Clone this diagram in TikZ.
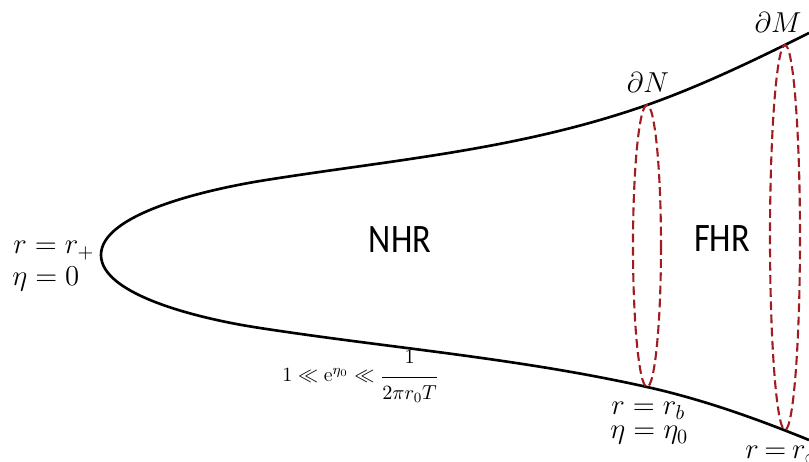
\RequirePackage{fix-cm}
\documentclass[tikz,border=0pt]{standalone}
\usepackage{amsmath,amssymb}
\usepackage{fontspec}
\newfontfamily\regionfont{Carlito}
\usepackage{tikz}
\definecolor{ringred}{RGB}{160,28,32}
\newcommand{\labelsize}{\fontsize{16.4}{19}\selectfont}
\newcommand{\regionname}[1]{\scalebox{0.85}[1]{#1}}
\tikzset{
  wall/.style={line width=1.5pt},
  ring/.style={ringred,line width=1.2pt,dash pattern=on 5pt off 2.5pt},
  lbl/.style={inner sep=0pt,font=\labelsize},
  region/.style={inner sep=0pt,font=\regionfont\fontsize{23}{27}\selectfont}
}

\begin{document}
\begin{tikzpicture}[x=0.02cm,y=-0.02cm]
    \useasboundingbox (0,0) rectangle (809,462);
    \clip (0,0) rectangle (809,462);
    % horn
    \draw[wall] (809,33) .. controls (755,60) and (701,86) .. (647,105)
      .. controls (517,150.5) and (390,160) .. (260,181)
      .. controls (200,191) and (101,215) .. (101,255)
      .. controls (101,295) and (200,319) .. (260,328)
      .. controls (390,348) and (517,358) .. (647,387)
      .. controls (701,399) and (755,418) .. (809,440);
    % boundaries
    \draw[ring] (647,246) ellipse [x radius=14, y radius=141];
    \draw[ring] (785,237.5) ellipse [x radius=15, y radius=192.5];
    % labels
    \node[lbl,anchor=base west] (rplus) at (13,254) {$r=r_+$};
    \node[lbl,anchor=base west] (etazero) at (12,286) {$\eta=0$};
    \node[region,anchor=base] (nhr) at (400,253) {\regionname{NHR}};
    \node[region,anchor=base] (fhr) at (722,252) {\regionname{FHR}};
    \node[lbl,anchor=base] (dN) at (648,93) {$\partial N$};
    \node[lbl,anchor=base] (dM) at (778,33) {$\partial M$};
    \node[lbl,anchor=base west] (rb) at (611,415) {$r=r_b$};
    \node[lbl,anchor=base west] (etab) at (610,439) {$\eta=\eta_0$};
    \node[lbl,anchor=base west] (rinf) at (745,459) {$r\mkern-1.5mu=\mkern-1.5mu r_\infty$};
    \node[inner sep=0pt,anchor=base west,font=\fontsize{11.5}{14}\selectfont] (hier) at (282,382)
      {$1\ll \mathrm{e}^{\eta_0}\ll\dfrac{\raisebox{3pt}{$1$}}{\raisebox{-2pt}{$2\pi r_0 T$}}$};
\end{tikzpicture}
\end{document}
